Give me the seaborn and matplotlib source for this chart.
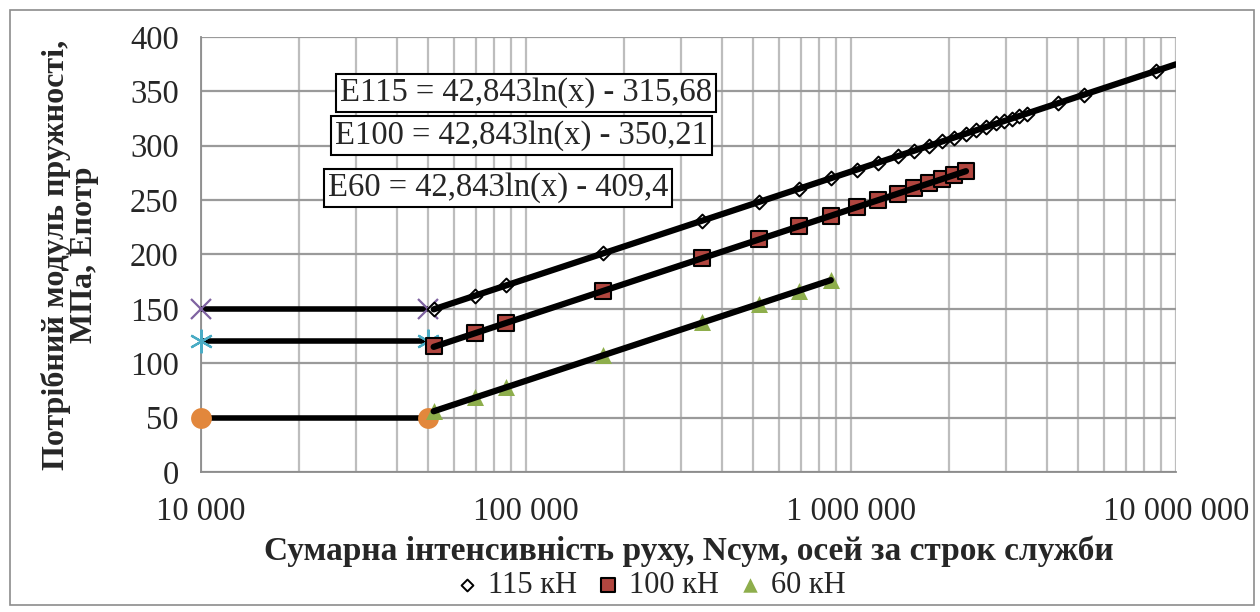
import numpy as np
import pandas as pd
import matplotlib
matplotlib.use("Agg")
import matplotlib.pyplot as plt
import matplotlib.ticker as mticker
from matplotlib.patches import Rectangle
import seaborn as sns

# series (N - axles over service life, E - required modulus, MPa)
n115 = [52000, 69700, 86800, 172600, 348000, 521000, 692000, 867000, 1043000, 1211000,
        1396000, 1563000, 1738000, 1905000, 2075000, 2259000, 2425000, 2603000, 2794000,
        2958000, 3128000, 3289000, 3481000, 4335000, 5212000, 8677000]
e115 = [150, 162, 171.5, 201, 231, 248, 260.5, 270, 278, 284.5, 290.5, 295.5, 300, 304,
        307.5, 311, 314.5, 317.5, 320.5, 323, 325, 327.5, 329.5, 339, 347, 369]

n100 = [52000, 69700, 86800, 172600, 348000, 521000, 692000, 867000, 1043000, 1211000,
        1396000, 1563000, 1738000, 1905000, 2075000, 2259000]
e100 = [115.5, 127.5, 137, 166.5, 196.5, 214, 226, 235.5, 243.5, 250, 256, 261, 265.5,
        269.5, 273, 277]

n60 = [52000, 69700, 86800, 172600, 348000, 521000, 692000, 867000]
e60 = [56.5, 68.5, 78, 107.5, 137.5, 154.5, 166.5, 176.5]

# minimum modulus plateaus (N from 10 000 to 50 000)
plateau_n = [10000, 50000]
plateau_e = [150, 120, 50]

# logarithmic trend lines as printed on the chart
trend_names = ["E115", "E100", "E60"]
trend_a = [42.843, 42.843, 42.843]
trend_b = [-315.68, -350.21, -409.4]
trend_end = [10000000, 2259000, 867000]

legend_labels = ["115 кН", "100 кН", "60 кН"]
x_ticks = [10000, 100000, 1000000, 10000000]
y_ticks = [0, 50, 100, 150, 200, 250, 300, 350, 400]

sns.set_style("white")
plt.rcParams['font.family'] = ['Liberation Serif', 'DejaVu Serif']

fig = plt.figure(figsize=(12.6, 6.12), dpi=100)
ax = fig.add_axes([0.1595, 0.2288, 0.7738, 0.7108])

# outer chart border
fig.patches.append(Rectangle((0.008, 0.012), 0.987, 0.972, transform=fig.transFigure,
                             fill=False, edgecolor='#8c8c8c', lw=1.2))

# plateau lines with end markers
plateau_style = [
    dict(marker='x', color='#7f63a1', ms=14, mew=1.6),
    dict(marker=(6, 2, 0), color='#4aacc5', ms=17, mew=1.6),
    dict(marker='o', color='#e2873c', ms=15, mew=0),
]
for e, st in zip(plateau_e, plateau_style):
    ax.plot(plateau_n, [e, e], color='black', lw=4, zorder=3, solid_capstyle='butt')
    ax.plot(plateau_n, [e, e], ls='none', marker=st['marker'], color=st['color'],
            markersize=st['ms'], markeredgewidth=st['mew'], zorder=4, clip_on=False)

series = [
    (n115, e115, dict(marker='D', s=50, facecolor='white', edgecolor='black', linewidth=1.4)),
    (n100, e100, dict(marker='s', s=130, facecolor='#b1463f', edgecolor='black', linewidth=1.5)),
    (n60, e60, dict(marker='^', s=150, facecolor='#8eae4c', edgecolor='#8eae4c', linewidth=0)),
]
for (n, e, st), lab in zip(series, legend_labels):
    df = pd.DataFrame({'N': n, 'E': e})
    sns.scatterplot(data=df, x='N', y='E', ax=ax, marker=st['marker'], s=st['s'],
                    color=st['facecolor'], edgecolor=st['edgecolor'],
                    linewidth=st['linewidth'], zorder=5, label=lab)

for a, b, x0, x1 in zip(trend_a, trend_b, [n115[0], n100[0], n60[0]], trend_end):
    xs = np.logspace(np.log10(x0), np.log10(x1), 60)
    sns.lineplot(x=xs, y=a * np.log(xs) + b, ax=ax, color='black', lw=4.5, zorder=6)

ax.set_xscale('log')
ax.set_xlim(10000, 10000000)
ax.set_ylim(0, 400)
ax.set_xticks(x_ticks)
ax.xaxis.set_minor_locator(mticker.LogLocator(base=10, subs=np.arange(2, 10)))
ax.xaxis.set_minor_formatter(mticker.NullFormatter())
ax.xaxis.set_major_formatter(mticker.FuncFormatter(lambda v, p: f"{int(v):,}".replace(',', ' ')))
ax.set_yticks(y_ticks)

ax.grid(True, which='major', axis='y', color='#9a9a9a', lw=1.6)
ax.grid(True, which='both', axis='x', color='#bdbdbd', lw=1.6)
ax.set_axisbelow(True)
for s in ['top', 'right']:
    ax.spines[s].set_visible(False)
for s in ['left', 'bottom']:
    ax.spines[s].set_color('#8c8c8c')
    ax.spines[s].set_linewidth(1.3)

ax.tick_params(axis='both', which='major', labelsize=23.5, length=6, color='#8c8c8c',
               direction='out', pad=10)
ax.tick_params(axis='x', which='minor', length=4, color='#8c8c8c')
ax.tick_params(axis='x', which='major', pad=12)

ax.set_xlabel("Сумарна інтенсивність руху, Nсум, осей за строк служби",
              fontsize=24, fontweight='bold', labelpad=6)
ax.set_ylabel("Потрібний модуль пружності,\nМПа, Eпотр", fontsize=23,
              fontweight='bold', labelpad=22, linespacing=0.95)

eq_pos = [(0.333, 0.871), (0.329, 0.774), (0.305, 0.653)]
for name, a, b, (tx, ty) in zip(trend_names, trend_a, trend_b, eq_pos):
    txt = f"{name} = {a:.3f}ln(x) - {abs(b):g}".replace('.', ',')
    ax.text(tx, ty, txt, transform=ax.transAxes, ha='center', va='center', fontsize=23.5,
            zorder=7, bbox=dict(boxstyle='square,pad=0.12', facecolor='white',
                                edgecolor='black', lw=1.5))

handles, labels = ax.get_legend_handles_labels()
ax.legend(handles[:3], labels[:3], loc='center', bbox_to_anchor=(0.516, 0.044),
          bbox_transform=fig.transFigure, ncol=3, frameon=False, fontsize=22,
          handlelength=0.8, handletextpad=0.3, columnspacing=0.6, borderpad=0,
          markerscale=0.85)

fig.savefig("out.png", dpi=100)
